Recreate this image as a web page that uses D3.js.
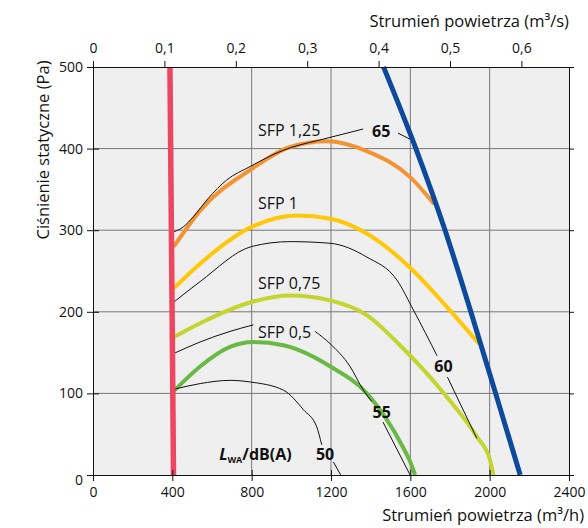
<!DOCTYPE html>
<html><head><meta charset="utf-8">
<script src="https://cdn.jsdelivr.net/npm/d3@7"></script>
<style>body{margin:0;background:#fff} text{font-family:"Open Sans",sans-serif;fill:#111}</style>
</head><body><svg id="c" width="588" height="528"></svg>
<script>
// ---- data ----
const flowTicks = [0,400,800,1200,1600,2000,2400];          // m3/h
const flowSTicks = [0,0.1,0.2,0.3,0.4,0.5,0.6];             // m3/s
const pressureTicks = [0,100,200,300,400,500];              // Pa
const gridFlow = [800,1200,1600,2000];
const gridPressure = [100,200,300,400];

// SFP curves [flow m3/h, pressure Pa]
const sfp125 = [[408,280],[540,324],[800,375],[994,402],[1179,409],[1380,397],[1599,365],[1720,332]];
const sfp1   = [[408,229],[540,259],[800,304],[1027,318],[1197,314],[1380,296],[1599,254],[1784,206],[1945,161]];
const sfp075 = [[408,169],[540,186],[800,212],[994,220],[1195,214],[1380,196],[1548,159],[1783,96],[1935,47],[2002,18],[2019,0]];
const sfp05  = [[408,103],[540,133],[691,157],[809,163],[960,159],[1197,133],[1381,100],[1563,34],[1600,16],[1624,0]];

// limit lines
const minFlow = [[388,500],[406,0]];
const maxFlow = [[1465,500],[1628,400],[1775,300],[1905,200],[2030,100],[2154,0]];

// noise iso-lines LWA dB(A)
const noise65 = [[408,298],[455,304],[506,316.5],[581,339],[674,361.5],[792,378],[960,398],[1128,409.6]];
const leader65a = [[1128,409.6],[1362,424]];
const leader65b = [[1538,419],[1619,409]];
const noise60 = [[408,212],[540,237],[800,280],[994,286],[1195,284],[1381,267],[1532,239],[1616,202],[1735,146]];
const leader60 = [[1787,120],[1935,45]];
const noise55a = [[408,149],[540,163],[691,176],[809,184]];
const noise55b = [[1120,176],[1195,161],[1296,133],[1363,104],[1406,90]];
const leader55 = [[1462,65],[1599,0]];
const noise50 = [[408,105],[540,112],[691,116],[792,114],[960,104],[1061,80],[1128,59],[1153,37]];
const leader50 = [[1212,16],[1249,0]];

const sfpLabels = [["SFP 1,25",832,422],["SFP 1",832,333],["SFP 0,75",832,235],["SFP 0,5",832,175.5]];
const dbLabels = [["65",1453,421],["60",1767,133],["55",1456,77],["50",1170,25]];

// ---- chart ----
const svg = d3.select("#c");
const x = d3.scaleLinear().domain([0,2400]).range([93,569]);
const xs = d3.scaleLinear().domain([0,2400/3600]).range([93,569]);
const y = d3.scaleLinear().domain([0,500]).range([475,67]);
const loc = d3.formatLocale({decimal:",",thousands:"",grouping:[3],currency:["",""]});
const fS = d => d===0 ? "0" : loc.format(".1f")(d);

svg.append("rect").attr("x",x(0)).attr("y",y(500)).attr("width",x(2400)-x(0)).attr("height",y(0)-y(500)).attr("fill","#efefef");

svg.append("g").selectAll("line").data(gridPressure).join("line")
  .attr("x1",x(0)).attr("x2",x(2400)).attr("y1",d=>y(d)).attr("y2",d=>y(d))
  .attr("stroke","#555").attr("stroke-width",0.8);
svg.append("g").selectAll("line").data(gridFlow).join("line")
  .attr("y1",y(0)).attr("y2",y(500)).attr("x1",d=>x(d)).attr("x2",d=>x(d))
  .attr("stroke","#777").attr("stroke-width",1);

const line = d3.line().x(d=>x(d[0])).y(d=>y(d[1])).curve(d3.curveMonotoneX);
const straight = d3.line().x(d=>x(d[0])).y(d=>y(d[1]));

[[sfp125,"#f39433"],[sfp1,"#fec708"],[sfp075,"#c3d52e"],[sfp05,"#6ab945"]].forEach(([d,c])=>{
  svg.append("path").attr("d",line(d)).attr("fill","none").attr("stroke",c).attr("stroke-width",4).attr("stroke-linecap","butt");
});

[noise65,noise60,noise55a,noise55b,noise50].forEach(d=>{
  svg.append("path").attr("d",line(d)).attr("fill","none").attr("stroke","#111").attr("stroke-width",1);
});
[leader65a,leader65b,leader60,leader55,leader50].forEach(d=>{
  svg.append("path").attr("d",straight(d)).attr("fill","none").attr("stroke","#111").attr("stroke-width",1);
});

svg.append("path").attr("d",straight(minFlow)).attr("fill","none").attr("stroke","#ec4661").attr("stroke-width",5.5);
svg.append("path").attr("d",line(maxFlow)).attr("fill","none").attr("stroke","#0d4a9b").attr("stroke-width",5);

// axes
const styleAxis = g => { g.selectAll("path,line").attr("stroke","#111"); g.selectAll("text").style("font-size","14px").attr("fill","#111").style("font-family","'Open Sans',sans-serif"); };
svg.append("g").attr("transform",`translate(0,${y(0)})`)
  .call(d3.axisBottom(x).tickValues(flowTicks).tickSize(6).tickSizeOuter(0).tickPadding(6).tickFormat(d3.format("d"))).call(styleAxis);
svg.append("g").attr("transform",`translate(0,${y(0)})`)
  .call(d3.axisTop(x).tickValues(flowTicks).tickSize(5).tickSizeOuter(0).tickFormat("")).call(styleAxis);
svg.append("g").attr("transform",`translate(0,${y(500)})`)
  .call(d3.axisTop(xs).tickValues(flowSTicks).tickSize(6).tickSizeOuter(0).tickPadding(8).tickFormat(fS)).call(styleAxis);
const yAx = svg.append("g").attr("transform",`translate(${x(0)},0)`)
  .call(d3.axisLeft(y).tickValues(pressureTicks).tickSize(6).tickSizeOuter(0).tickPadding(4)).call(styleAxis);
yAx.selectAll(".tick").filter(d=>d===0).select("text").attr("y",5);
svg.append("g").attr("transform",`translate(${x(0)},0)`)
  .call(d3.axisRight(y).tickValues(pressureTicks).tickSize(6).tickSizeOuter(0).tickFormat("")).call(styleAxis);
svg.append("g").attr("transform",`translate(${x(2400)},0)`)
  .call(d3.axisRight(y).tickValues(pressureTicks).tickSize(5).tickSizeOuter(0).tickFormat("")).call(styleAxis);

// titles
svg.append("text").attr("x",569).attr("y",27).attr("text-anchor","end").style("font-size","16.5px").text("Strumień powietrza (m³/s)");
svg.append("text").attr("x",584).attr("y",521).attr("text-anchor","end").style("font-size","16.5px").text("Strumień powietrza (m³/h)");
svg.append("text").attr("transform","translate(49,150) rotate(-90)").attr("text-anchor","middle").style("font-size","16.5px").text("Ciśnienie statyczne (Pa)");

// labels
svg.append("g").selectAll("text").data(sfpLabels).join("text")
  .attr("x",d=>x(d[1])).attr("y",d=>y(d[2])).attr("dy","0.36em").style("font-size","16px").text(d=>d[0]);
svg.append("g").selectAll("text").data(dbLabels).join("text")
  .attr("x",d=>x(d[1])).attr("y",d=>y(d[2])).attr("dy","0.36em").attr("text-anchor","middle")
  .style("font-size","16px").style("font-weight","bold").text(d=>d[0]);

const lw = svg.append("text").attr("x",x(636)).attr("y",y(18.4)).style("font-size","16px").style("font-weight","bold");
lw.append("tspan").style("font-style","italic").text("L");
lw.append("tspan").style("font-size","9px").attr("dy",3).text("WA");
lw.append("tspan").attr("dy",-3).text("/dB(A)");
</script></body></html>
